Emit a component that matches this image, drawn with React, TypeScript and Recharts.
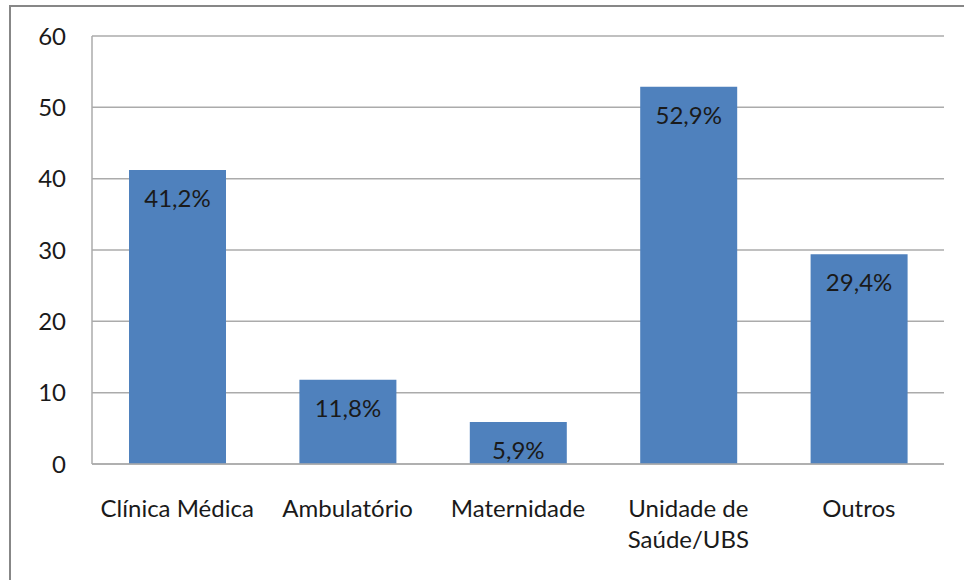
import React from 'react';
import { BarChart, Bar, XAxis, YAxis, CartesianGrid, LabelList } from 'recharts';

// Values
const categories = ['Clínica Médica', 'Ambulatório', 'Maternidade', 'Unidade de\nSaúde/UBS', 'Outros'];
const values = [41.2, 11.8, 5.9, 52.9, 29.4];
const valueLabels = ['41,2%', '11,8%', '5,9%', '52,9%', '29,4%'];
const yTicks = [0, 10, 20, 30, 40, 50, 60];

const data = categories.map((name, i) => ({
  name,
  value: values[i],
  label: valueLabels[i],
}));

const FONT = 'Lato, "Open Sans", sans-serif';
const GRID = '#ababab';
const TEXT = '#1a1a1a';

const MultiLineTick = (props: any) => {
  const { x, y, payload } = props;
  const lines = String(payload.value).split('\n');
  return (
    <text x={x} y={y} textAnchor="middle" fill={TEXT} fontSize={24} fontFamily={FONT}>
      {lines.map((line, i) => (
        <tspan key={i} x={x} dy={i === 0 ? 53 : 31}>
          {line}
        </tspan>
      ))}
    </text>
  );
};

const App: React.FC = () => {
  return (
    <div
      style={{
        position: 'absolute',
        left: 0,
        top: 0,
        width: 964,
        height: 580,
        background: '#fff',
        overflow: 'hidden',
      }}
    >
      <div
        style={{
          position: 'absolute',
          left: 9,
          top: 5,
          width: 980,
          height: 600,
          borderLeft: '2px solid #878787',
          borderTop: '2px solid #878787',
        }}
      />
      <div style={{ position: 'absolute', left: 0, top: 0 }}>
        <BarChart
          width={964}
          height={580}
          data={data}
          margin={{ top: 36, right: 20, bottom: 86, left: 0 }}
        >
          <CartesianGrid vertical={false} stroke={GRID} strokeWidth={1.5} />
          <XAxis
            dataKey="name"
            height={30}
            axisLine={{ stroke: GRID, strokeWidth: 1.5 }}
            tickLine={false}
            tickSize={0}
            tickMargin={0}
            interval={0}
            tick={<MultiLineTick />}
          />
          <YAxis
            width={92}
            domain={[0, 60]}
            ticks={yTicks}
            axisLine={{ stroke: GRID, strokeWidth: 1.5 }}
            tickLine={false}
            tickSize={0}
            tickMargin={26}
            tick={{ fill: TEXT, fontSize: 24, fontFamily: FONT }}
          />
          <Bar dataKey="value" fill="#4f81bd" barSize={97} isAnimationActive={false}>
            <LabelList
              dataKey="label"
              position="insideTop"
              offset={20}
              fill={TEXT}
              fontSize={24}
              fontFamily={FONT}
            />
          </Bar>
        </BarChart>
      </div>
    </div>
  );
};

export default App;
